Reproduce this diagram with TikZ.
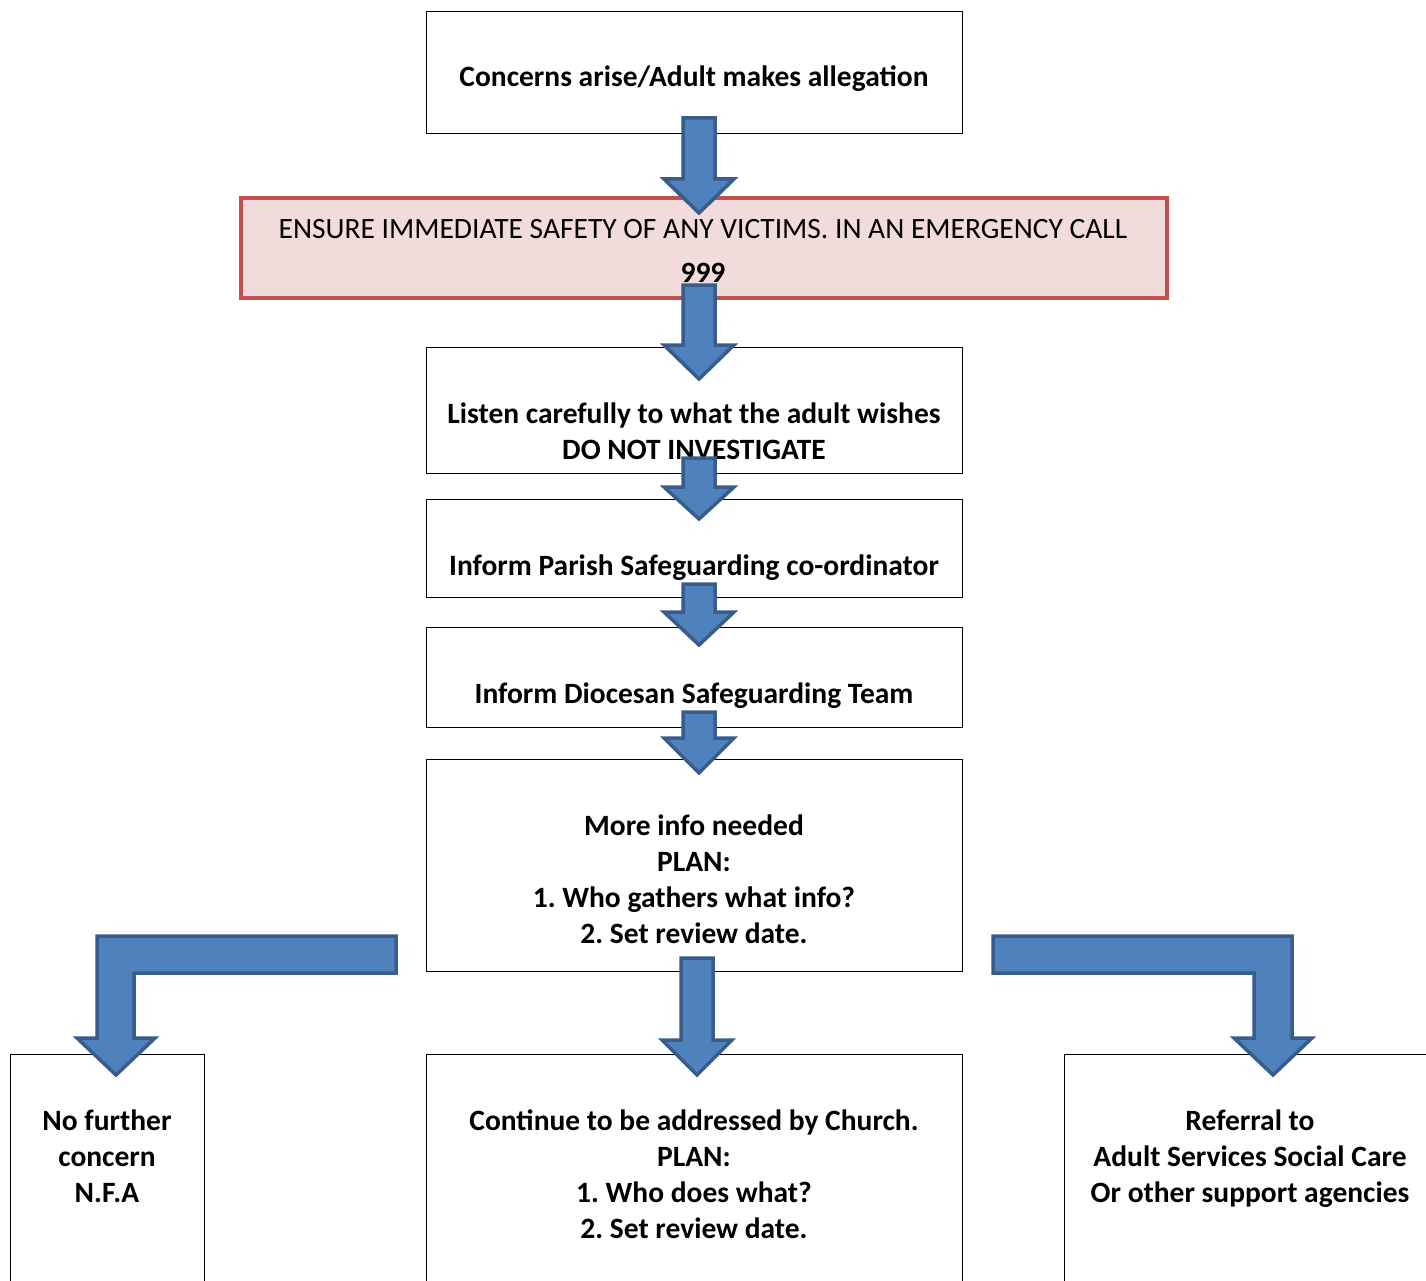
\documentclass[tikz,border=0pt]{standalone}
\usepackage{fontspec}
\setmainfont{Carlito}
\frenchspacing
\definecolor{arrowfill}{HTML}{4F81BD}
\definecolor{arrowline}{HTML}{385D8A}
\definecolor{redfill}{HTML}{F2DCDB}
\definecolor{redline}{HTML}{C0504D}
\newcommand{\blockdown}[4]{% cx, top, headstart, tip
  \filldraw[blockarrow] (#1-16,#2) -- (#1+16,#2) -- (#1+16,#3) -- (#1+35,#3) -- (#1,#4) -- (#1-35,#3) -- (#1-16,#3) -- cycle;}
\begin{document}
\begin{tikzpicture}[x=1pt,y=-1pt,
  box/.style={draw=black,line width=1.2pt,fill=white,anchor=north west,inner sep=0pt},
  redbox/.style={draw=redline,line width=4pt,fill=redfill,anchor=north west,inner sep=0pt},
  txt/.style={font=\fontsize{29.5}{36}\selectfont\bfseries,align=center,inner sep=0pt},
  rtxt/.style={font=\fontsize{29.5}{36}\selectfont,align=center,inner sep=0pt},
  blockarrow/.style={fill=arrowfill,draw=arrowline,line width=3.5pt,line join=miter}]
\useasboundingbox (0,0) rectangle (1426,1281);
\clip (0,0) rectangle (1426,1281);
\fill[white] (0,0) rectangle (1426,1281);
% boxes
\node[box,minimum width=536,minimum height=122] (b1) at (426,11) {};
\node[redbox,minimum width=926,minimum height=100] (b2) at (239,196) {};
\node[box,minimum width=536,minimum height=126] (b3) at (426,347) {};
\node[box,minimum width=536,minimum height=98] (b4) at (426,499) {};
\node[box,minimum width=536,minimum height=100] (b5) at (426,627) {};
\node[box,minimum width=536,minimum height=212] (b6) at (426,759) {};
\node[box,minimum width=194,minimum height=260] (b7) at (10,1054) {};
\node[box,minimum width=536,minimum height=260] (b8) at (426,1054) {};
\node[box,minimum width=400,minimum height=260] (b9) at (1064,1054) {};
% texts
\node[txt] (t1) at (694,79) {Concerns arise/Adult makes allegation};
\node[rtxt,anchor=base] (t2a) at (703,239) {ENSURE IMMEDIATE SAFETY OF ANY VICTIMS. IN AN EMERGENCY CALL};
\node[txt,anchor=base] (t2b) at (703,282) {999};
\node[txt] (t3) at (694,431) {Listen carefully to what the adult wishes\\DO NOT INVESTIGATE};
\node[txt] (t4) at (694,568) {Inform Parish Safeguarding co-ordinator};
\node[txt] (t5) at (694,696) {Inform Diocesan Safeguarding Team};
\node[txt] (t6) at (694,879) {More info needed\\PLAN:\\1. Who gathers what info?\\2. Set review date.};
\node[txt] (t7) at (107,1156) {No further\\concern\\N.F.A};
\node[txt] (t8) at (694,1174) {Continue to be addressed by Church.\\PLAN:\\1. Who does what?\\2. Set review date.};
\node[txt] (t9) at (1250,1159) {Referral to\\Adult Services Social Care\\Or other support agencies};
% block arrows
\blockdown{699}{118}{179}{213}
\blockdown{699}{285}{345}{379}
\blockdown{699}{458}{487}{519}
\blockdown{699}{584}{612}{645}
\blockdown{699}{712}{738}{773}
\blockdown{697}{958}{1040}{1075}
% left bent arrow
\filldraw[blockarrow] (396,936) -- (396,973) -- (134,973) -- (134,1038) -- (155,1038) -- (116,1075) -- (77,1038) -- (97,1038) -- (97,936) -- cycle;
% right bent arrow
\filldraw[blockarrow] (993,936) -- (993,973) -- (1254,973) -- (1254,1038) -- (1234,1038) -- (1273,1075) -- (1312,1038) -- (1292,1038) -- (1292,936) -- cycle;
\end{tikzpicture}
\end{document}
